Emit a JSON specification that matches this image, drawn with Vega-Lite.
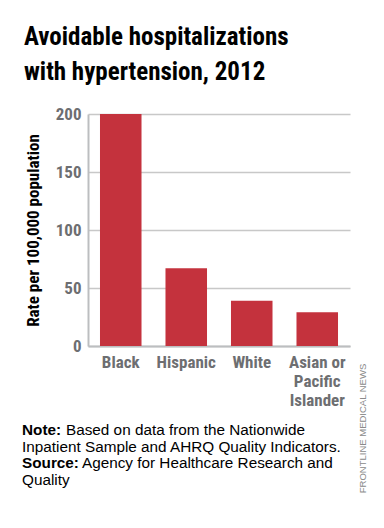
{
  "$schema": "https://vega.github.io/schema/vega-lite/v6.json",
  "background": "white",
  "padding": {"left": 22, "top": 25, "right": 0, "bottom": 0},
  "title": {
    "text": ["Avoidable hospitalizations", "with hypertension, 2012"],
    "anchor": "start",
    "frame": "bounds",
    "font": "Roboto Condensed",
    "fontSize": 25,
    "fontWeight": "bold",
    "color": "#000000",
    "lineHeight": 35,
    "offset": 20,
    "dx": 2
  },
  "config": {"view": {"stroke": null}, "font": "Liberation Sans"},
  "spacing": -45,
  "vconcat": [
    {
      "width": 262,
      "height": 232,
      "data": {
        "values": [
          {"group": "Black", "rate": 200},
          {"group": "Hispanic", "rate": 67},
          {"group": "White", "rate": 39},
          {"group": "Asian or Pacific Islander", "rate": 29}
        ]
      },
      "mark": {"type": "bar", "color": "#c4323d"},
      "encoding": {
        "x": {
          "field": "group",
          "type": "nominal",
          "sort": null,
          "scale": {"paddingInner": 0.366, "paddingOuter": 0.183},
          "axis": {
            "title": null,
            "labelAngle": 0,
            "labelFont": "Roboto Condensed",
            "labelFontWeight": "bold",
            "labelFontSize": 17,
            "labelColor": "#6d6e71",
            "labelPadding": 8,
            "labelLineHeight": 19,
            "ticks": false,
            "domainColor": "#bcbec0",
            "domainWidth": 2,
            "labelExpr": "datum.label == 'Asian or Pacific Islander' ? ['Asian or', 'Pacific', 'Islander'] : datum.label"
          }
        },
        "y": {
          "field": "rate",
          "type": "quantitative",
          "scale": {"domain": [0, 200]},
          "axis": {
            "title": "Rate per 100,000 population",
            "values": [0, 50, 100, 150, 200],
            "grid": true,
            "gridColor": "#c8c8c8",
            "gridWidth": 1.5,
            "ticks": false,
            "domainColor": "#bcbec0",
            "domainWidth": 2,
            "labelFont": "Roboto Condensed",
            "labelFontWeight": "bold",
            "labelFontSize": 17,
            "labelColor": "#6d6e71",
            "labelPadding": 7,
            "titleFont": "Roboto Condensed",
            "titleFontSize": 17,
            "titleFontWeight": "bold",
            "titleColor": "#000000",
            "titlePadding": 13
          }
        }
      }
    },
    {
      "width": 330,
      "height": 50,
      "data": {
        "values": [
          {"line": 1, "lead": "Note:", "rest": "Based on data from the Nationwide"},
          {"line": 2, "lead": "", "rest": "Inpatient Sample and AHRQ Quality Indicators."},
          {"line": 3, "lead": "Source:", "rest": "Agency for Healthcare Research and"},
          {"line": 4, "lead": "", "rest": "Quality"}
        ]
      },
      "encoding": {
        "x": {"datum": 0, "type": "quantitative", "scale": {"domain": [0, 1]}, "axis": null},
        "y": {
          "field": "line",
          "type": "ordinal",
          "scale": {"type": "point", "padding": 0},
          "axis": {
            "orient": "right",
            "labels": false,
            "ticks": false,
            "domain": false,
            "title": "FRONTLINE MEDICAL NEWS",
            "titleAngle": 270,
            "titleFont": "Liberation Sans",
            "titleFontWeight": "normal",
            "titleFontSize": 9.5,
            "titleColor": "#8a8a8a",
            "titleAlign": "center",
            "titleBaseline": "middle",
            "titleX": -56,
            "titleY": -7
          }
        }
      },
      "layer": [
        {
          "mark": {"type": "text", "align": "left", "baseline": "alphabetic", "font": "Liberation Sans", "fontSize": 15.3, "fontWeight": "bold", "color": "#000000", "dx": -66},
          "encoding": {"text": {"field": "lead"}}
        },
        {
          "transform": [{"filter": "datum.line == 1"}],
          "mark": {"type": "text", "align": "left", "baseline": "alphabetic", "font": "Liberation Sans", "fontSize": 15.3, "color": "#000000", "dx": -22},
          "encoding": {"text": {"field": "rest"}}
        },
        {
          "transform": [{"filter": "datum.line == 3"}],
          "mark": {"type": "text", "align": "left", "baseline": "alphabetic", "font": "Liberation Sans", "fontSize": 15.3, "color": "#000000", "dx": -6},
          "encoding": {"text": {"field": "rest"}}
        },
        {
          "transform": [{"filter": "datum.line == 2 || datum.line == 4"}],
          "mark": {"type": "text", "align": "left", "baseline": "alphabetic", "font": "Liberation Sans", "fontSize": 15.3, "color": "#000000", "dx": -66},
          "encoding": {"text": {"field": "rest"}}
        }
      ]
    }
  ]
}
